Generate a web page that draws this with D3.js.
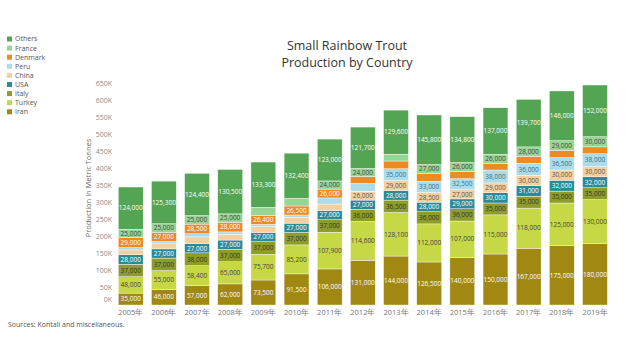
<!DOCTYPE html>
<html>
<head>
<meta charset="utf-8">
<script src="https://cdn.jsdelivr.net/npm/d3@7"></script>
<style>
  body { margin: 0; background: #fff; }
  text { font-family: "Open Sans", "Noto Sans", sans-serif; }
</style>
</head>
<body>
<div id="chart"></div>
<script>
// production per country, tonnes
var years = ["2005年","2006年","2007年","2008年","2009年","2010年","2011年","2012年","2013年","2014年","2015年","2016年","2017年","2018年","2019年"];
var iran    = [35000, 46000, 57000, 62000, 73500, 91500, 106000, 131000, 144000, 126500, 140000, 150000, 167000, 175000, 180000];
var turkey  = [48000, 55000, 58400, 65000, 75700, 85200, 107900, 114600, 128100, 112000, 107000, 115000, 118000, 125000, 130000];
var italy   = [37000, 37000, 38000, 37000, 37000, 37000, 37000, 36000, 36500, 36000, 36000, 35000, 35000, 35000, 35000];
var usa     = [28000, 27000, 27000, 27000, 27000, 27000, 27000, 27000, 28000, 28000, 29000, 30000, 31000, 32000, 32000];
var china   = [14000, 15000, 20000, 17000, 17000, 17000, 19000, 26000, 29000, 28500, 27000, 29000, 30000, 30000, 30000];
var peru    = [7000, 7000, 9000, 7000, 7000, 7000, 18000, 23000, 35000, 33000, 32500, 38000, 36000, 36500, 38000];
var denmark = [29000, 27000, 28500, 28000, 26400, 26500, 26000, 20000, 23000, 22000, 21500, 20000, 20000, 21000, 20000];
var france  = [25000, 25000, 25000, 25000, 23500, 23000, 24000, 24000, 20000, 27000, 26000, 26000, 28000, 29000, 30000];
var others  = [124000, 125300, 124400, 130500, 133300, 132400, 123000, 121700, 129600, 145800, 134800, 137000, 139700, 146000, 152000];

var yTicks = [0, 50000, 100000, 150000, 200000, 250000, 300000, 350000, 400000, 450000, 500000, 550000, 600000, 650000];

// bottom to top
var series = [
  {name: "Iran",    values: iran,    color: "#a08812", text: "#fff"},
  {name: "Turkey",  values: turkey,  color: "#c6d846", text: "#444"},
  {name: "Italy",   values: italy,   color: "#8e9c28", text: "#333"},
  {name: "USA",     values: usa,     color: "#2a8b97", text: "#fff"},
  {name: "China",   values: china,   color: "#f4d09e", text: "#555"},
  {name: "Peru",    values: peru,    color: "#acdcea", text: "#3a6f86"},
  {name: "Denmark", values: denmark, color: "#ee8a24", text: "#fff"},
  {name: "France",  values: france,  color: "#98d495", text: "#444"},
  {name: "Others",  values: others,  color: "#53a453", text: "#fff"}
];

var width = 640, height = 340;

var svg = d3.select("#chart")
  .append("svg")
    .attr("width", width)
    .attr("height", height);

var x = d3.scaleBand()
    .domain(years)
    .range([110, 615.7])
    .padding(0.25);

var y = d3.scaleLinear()
    .domain([0, 650000])
    .range([305, 84]);

// table for the stack
var rows = years.map(function(yr, i) {
  var r = {year: yr};
  series.forEach(function(s) { r[s.name] = s.values[i]; });
  return r;
});

var stacked = d3.stack()
    .keys(series.map(function(s) { return s.name; }))(rows);

var layers = svg.selectAll("g.layer")
  .data(stacked)
  .enter()
  .append("g")
    .attr("class", "layer")
    .attr("fill", function(d, i) { return series[i].color; });

layers.selectAll("rect")
  .data(function(d) { return d; })
  .enter()
  .append("rect")
    .attr("x", function(d) { return x(d.data.year); })
    .attr("y", function(d) { return y(d[1]); })
    .attr("width", x.bandwidth())
    .attr("height", function(d) { return y(d[0]) - y(d[1]); })
    .attr("stroke", "#fff")
    .attr("stroke-width", 0.4);

// value labels on segments big enough to hold them
layers.each(function(layer, li) {
  d3.select(this).selectAll("text")
    .data(layer.filter(function(d) { return d[1] - d[0] >= 24000; }))
    .enter()
    .append("text")
      .attr("x", function(d) { return x(d.data.year) + x.bandwidth() / 2; })
      .attr("y", function(d) { return y((d[0] + d[1]) / 2); })
      .attr("dy", "0.35em")
      .attr("text-anchor", "middle")
      .style("font-size", "6.5px")
      .style("fill", series[li].text)
      .text(function(d) { return d3.format(",")(d[1] - d[0]); });
});

// y axis labels, no line
svg.append("g")
  .selectAll("text")
  .data(yTicks)
  .enter()
  .append("text")
    .attr("x", 112)
    .attr("y", function(d) { return Math.min(y(d), 300); })
    .attr("dy", "0.35em")
    .attr("text-anchor", "end")
    .style("font-size", "7px")
    .style("fill", "#8a8a8a")
    .text(function(d) { return (d / 1000) + "K"; });

svg.append("text")
    .attr("transform", "translate(91,188) rotate(-90)")
    .attr("text-anchor", "middle")
    .style("font-size", "7.5px")
    .style("fill", "#666")
    .text("Production in Metric Tonnes");

// x axis labels
svg.append("g")
  .selectAll("text")
  .data(years)
  .enter()
  .append("text")
    .attr("x", function(d) { return x(d) + x.bandwidth() / 2; })
    .attr("y", 315)
    .attr("text-anchor", "middle")
    .style("font-size", "7.5px")
    .style("fill", "#777")
    .text(function(d) { return d; });

// title
svg.append("text")
    .attr("x", 347)
    .attr("y", 50)
    .attr("text-anchor", "middle")
    .style("font-size", "12.5px")
    .style("fill", "#333")
    .text("Small Rainbow Trout");

svg.append("text")
    .attr("x", 347)
    .attr("y", 67)
    .attr("text-anchor", "middle")
    .style("font-size", "12.5px")
    .style("fill", "#333")
    .text("Production by Country");

// legend, top to bottom
var legend = svg.append("g")
  .selectAll("g")
  .data(series.slice().reverse())
  .enter()
  .append("g")
    .attr("transform", function(d, i) { return "translate(7," + (39 + i * 9.1) + ")"; });

legend.append("rect")
    .attr("x", 0)
    .attr("y", -2.5)
    .attr("width", 5)
    .attr("height", 5)
    .attr("fill", function(d) { return d.color; });

legend.append("text")
    .attr("x", 8)
    .attr("dy", "0.35em")
    .style("font-size", "7px")
    .style("fill", "#555")
    .text(function(d) { return d.name; });

svg.append("text")
    .attr("x", 8)
    .attr("y", 327)
    .style("font-size", "7px")
    .style("fill", "#555")
    .text("Sources: Kontali and miscellaneous.");
</script>
</body>
</html>
